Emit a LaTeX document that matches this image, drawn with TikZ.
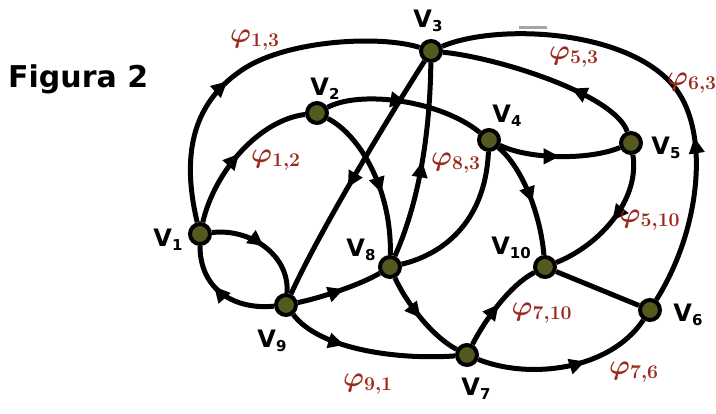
\documentclass[tikz,border=0pt]{standalone}
\usepackage{fontspec}
\newfontfamily\lblfont{DejaVu Sans}
\usetikzlibrary{arrows.meta,decorations.markings}
\definecolor{phired}{HTML}{9B2A1E}
\definecolor{vfill}{HTML}{55581F}
\pgfdeclarelayer{back}
\pgfdeclarelayer{bg}
\pgfsetlayers{back,bg,main}
\newcommand{\vlab}[1]{V\raisebox{-4pt}{\fontsize{15}{15}\selectfont #1}}
\newcommand{\flab}[1]{\scalebox{1.35}{\boldmath$\varphi_{#1}$}}
\begin{document}
\begin{tikzpicture}[x=1pt,y=-1pt,
  edge/.style={line width=5pt, draw=black},
  midarrow/.style={postaction={decorate,decoration={markings,
      mark=at position #1 with {\arrow{Triangle[length=16pt,width=15pt]}}}}},
  midarrow/.default=0.5,
  vert/.style={circle, draw=black, line width=4pt, fill=vfill, minimum size=20pt, inner sep=0pt},
  vlabel/.style={font=\lblfont\bfseries\fontsize{24}{24}\selectfont, inner sep=0pt},
  flabel/.style={text=phired, font=\fontsize{20}{20}\selectfont, inner sep=0pt}]
\begin{pgfonlayer}{back}
\fill[white] (0,0) rectangle (716,414);
\end{pgfonlayer}
\useasboundingbox (0,0) rectangle (716,414);

% title
\node[anchor=base west, inner sep=0pt, font=\lblfont\bfseries\fontsize{30}{30}\selectfont] (title) at (8,88) {Figura 2};

% vertices
\node[vert] (V1) at (200,234) {};
\node[vert] (V2) at (317,113) {};
\node[vert] (V3) at (431,51) {};
\node[vert] (V4) at (489,140) {};
\node[vert] (V5) at (631,143) {};
\node[vert] (V6) at (650,310) {};
\node[vert] (V7) at (467,355) {};
\node[vert] (V8) at (390,267) {};
\node[vert] (V9) at (286,305) {};
\node[vert] (V10) at (545,267) {};

% vertex labels
\node[vlabel] (L1) at (168,240) {\vlab{1}};
\node[vlabel] (L2) at (325,89) {\vlab{2}};
\node[vlabel] (L3) at (428,21) {\vlab{3}};
\node[vlabel] (L4) at (507,116) {\vlab{4}};
\node[vlabel] (L5) at (666,148) {\vlab{5}};
\node[vlabel] (L6) at (688,315) {\vlab{6}};
\node[vlabel] (L7) at (476,389) {\vlab{7}};
\node[vlabel] (L8) at (361,250) {\vlab{8}};
\node[vlabel] (L9) at (272,341) {\vlab{9}};
\node[vlabel] (L10) at (511,248) {\vlab{10}};

% edge labels
\node[flabel] (f13) at (255,40) {\flab{1,3}};
\node[flabel] (f12) at (276,160) {\flab{1,2}};
\node[flabel] (f83) at (456,163) {\flab{8,3}};
\node[flabel] (f53) at (574,57) {\flab{5,3}};
\node[flabel] (f63) at (692,83) {\flab{6,3}};
\node[flabel] (f510) at (650,220) {\flab{5,10}};
\node[flabel] (f710) at (542,313) {\flab{7,10}};
\node[flabel] (f76) at (634,372) {\flab{7,6}};
\node[flabel] (f91) at (368,384) {\flab{9,1}};

\begin{pgfonlayer}{bg}
% small grey mark above the outer arc
\draw[gray!70, line width=3pt] (519,28) -- (547,28);
% edges
\draw[edge,midarrow=0.43] (V1) .. controls (180,150) and (195,100) .. (245,68)
      .. controls (290,40) and (380,35) .. (V3);
\draw[edge,midarrow=0.5] (V1) .. controls (215,170) and (260,120) .. (V2);
\draw[edge,midarrow=0.5] (V1) .. controls (250,228) and (290,255) .. (V9);
\draw[edge,midarrow=0.6] (V9) .. controls (235,310) and (200,290) .. (V1);
\draw[edge,midarrow=0.55] (V3) .. controls (390,115) and (320,230) .. (V9);
\draw[edge,midarrow=0.5] (V8) .. controls (420,200) and (430,130) .. (V3);
\draw[edge,midarrow=0.5] (V2) .. controls (360,90) and (440,100) .. (V4);
\draw[edge,midarrow=0.6] (V2) .. controls (360,135) and (392,190) .. (V8);
\draw[edge,midarrow=0.5] (V4) .. controls (530,160) and (590,160) .. (V5);
\draw[edge,midarrow=0.55] (V4) .. controls (520,165) and (540,210) .. (V10);
\draw[edge] (V4) .. controls (485,225) and (440,255) .. (V8);
\draw[edge,midarrow=0.35] (V5) .. controls (615,95) and (500,58) .. (V3);
\draw[edge,midarrow=0.36] (V6) .. controls (700,230) and (708,140) .. (680,95)
      .. controls (640,30) and (500,22) .. (V3);
\draw[edge,midarrow=0.5] (V5) .. controls (640,200) and (600,245) .. (V10);
\draw[edge] (V10) -- (V6);
\draw[edge,midarrow=0.5] (V7) .. controls (485,320) and (510,285) .. (V10);
\draw[edge,midarrow=0.6] (V7) .. controls (530,380) and (610,370) .. (V6);
\draw[edge,midarrow=0.35] (V9) .. controls (320,350) and (400,360) .. (V7);
\draw[edge,midarrow=0.55] (V9) .. controls (320,298) and (360,285) .. (V8);
\draw[edge,midarrow=0.5] (V8) .. controls (405,300) and (430,335) .. (V7);
\end{pgfonlayer}
\end{tikzpicture}
\end{document}
